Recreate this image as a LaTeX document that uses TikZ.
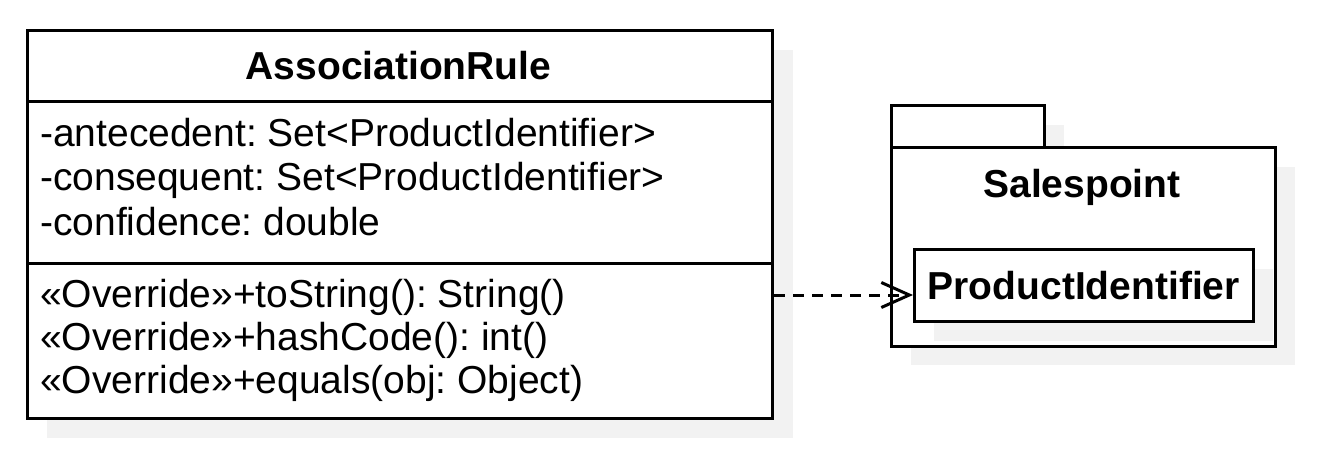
\documentclass[tikz,border=0pt]{standalone}
\usepackage{fontspec}
\setmainfont{Liberation Sans}
\usetikzlibrary{arrows.meta}
\frenchspacing
\begin{document}
\begin{tikzpicture}[x=1pt,y=-1pt,
  box/.style={draw=black, line width=3pt, fill=white, inner sep=0pt, anchor=north west},
  shade/.style={fill=black!5, draw=none},
  txt/.style={anchor=base west, inner sep=0pt, font=\fontsize{39}{46}\selectfont},
  ttl/.style={inner sep=0pt, font=\fontsize{39}{46}\selectfont\bfseries},
  dep/.style={line width=3pt, dash pattern=on 11pt off 8pt, -{Straight Barb[length=28pt,width=25pt,line width=3pt]}}]
\useasboundingbox (0,0) rectangle (1318,468);
% class shadow and box
\fill[shade] (47,50) rectangle (793,438);
\node[box, minimum width=745pt, minimum height=388pt] (cls) at (26,29) {};
\draw[line width=3pt] (cls.west |- 0,102) coordinate (d1) -- (cls.east |- d1);
\draw[line width=3pt] (cls.west |- 0,263) coordinate (d2) -- (cls.east |- d2);
\node[ttl] (title) at (398.5,66) {AssociationRule};
\node[txt] (a1) at (40,147) {-antecedent: Set<ProductIdentifier>};
\node[txt] (a2) at (40,191) {-consequent: Set<ProductIdentifier>};
\node[txt] (a3) at (40,235) {-confidence: double};
\node[txt] (m1) at (40,307) {«Override»+toString(): String()};
\node[txt] (m2) at (40,350) {«Override»+hashCode(): int()};
\node[txt] (m3) at (40,393) {«Override»+equals(obj: Object)};
% package shadow
\fill[shade] (911,125) rectangle (1064,167);
\fill[shade] (911,167) rectangle (1295,365);
\node[box, minimum width=153pt, minimum height=42pt] (tab) at (890,104) {};
\node[box, minimum width=384pt, minimum height=199pt] (pkg) at (890,146) {};
\node[ttl] (pname) at (1082,187) {Salespoint};
\fill[shade] (934,269) rectangle (1273,341);
\node[box, minimum width=339pt, minimum height=72pt, line width=2.5pt] (pid) at (913,248) {};
\node[ttl] (pidt) at (pid.center) {ProductIdentifier};
% dependency
\coordinate (ay) at (0,295);
\draw[dep] (ay -| cls.east) -- (ay -| pid.west);
\end{tikzpicture}
\end{document}
